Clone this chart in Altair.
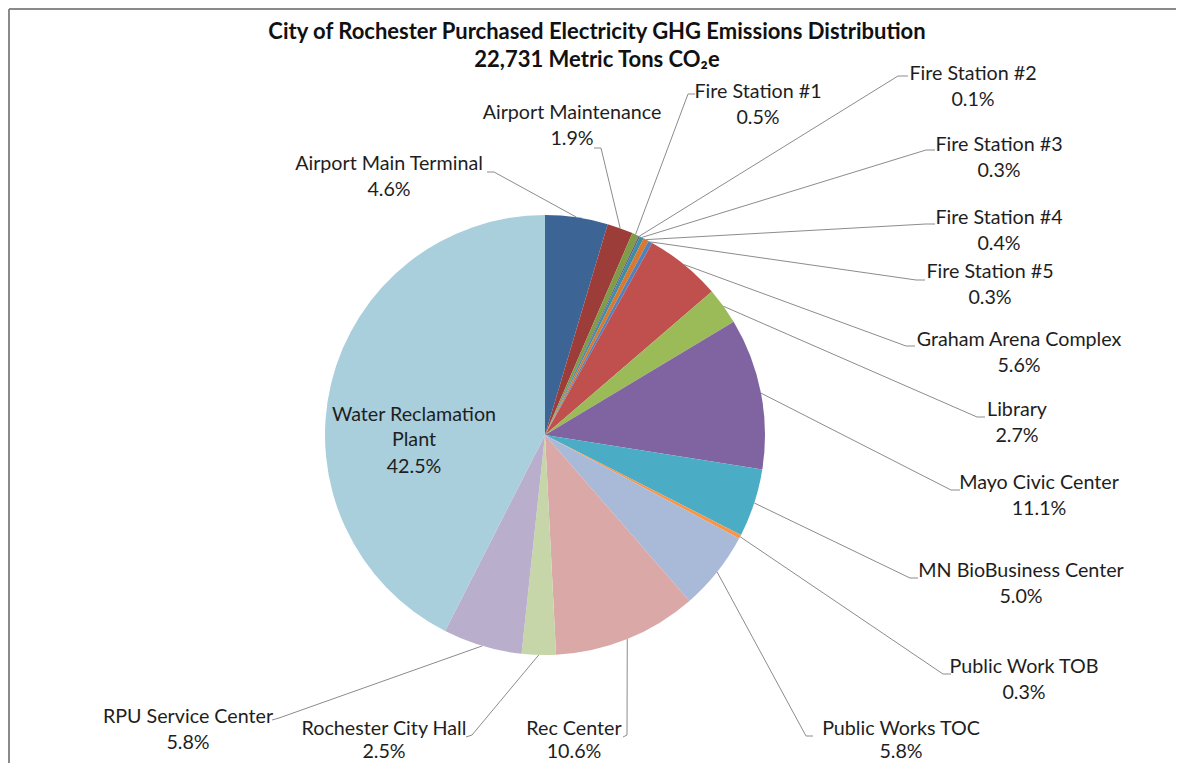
import math
import altair as alt
import pandas as pd

# ---- data ----
names = ["Airport Main Terminal", "Airport Maintenance", "Fire Station #1", "Fire Station #2",
         "Fire Station #3", "Fire Station #4", "Fire Station #5", "Graham Arena Complex",
         "Library", "Mayo Civic Center", "MN BioBusiness Center", "Public Work TOB",
         "Public Works TOC", "Rec Center", "Rochester City Hall", "RPU Service Center",
         "Water Reclamation Plant"]
values = [4.6, 1.9, 0.5, 0.1, 0.3, 0.4, 0.3, 5.6, 2.7, 11.1, 5.0, 0.3, 5.8, 10.6, 2.5, 5.8, 42.5]
colors = ["#3C6595", "#9C3D3A", "#7E9D46", "#664F84", "#3A8FA6", "#D9782F", "#4F81BD",
          "#C0504D", "#9BBB59", "#8064A2", "#4BACC6", "#F79646", "#A9B9D8", "#DBA8A8",
          "#C7D6A9", "#B9AECB", "#A9CEDC"]
title_lines = ["City of Rochester Purchased Electricity GHG Emissions Distribution",
               "22,731 Metric Tons CO\u2082e"]

# ---- layout (page pixel coordinates) ----
W, H = 1168, 755
CX, CY, R = 545, 435, 220
label_cx = [389, 572, 758, 973, 999, 999, 990, 1019, 1017, 1039, 1021, 1024, 901, 574, 384, 188]
label_cy = [164, 113, 92, 74, 145, 218, 272, 340, 410, 483, 571, 667, 729, 729, 729, 717]
label_gap = [26, 26, 26, 26, 26, 26, 26, 26, 26, 26, 26, 26, 23, 23, 23, 26]
anchor_x = [487, 594, 695, 908, 935, 935, 925, 915, 985, 960, 918, 951, 813, 623, 466, 272]
anchor_y = [172, 148, 94, 76, 150, 224, 280, 346, 417, 490, 578, 674, 736, 737, 737, 720]
elbow_x = [494, 601, 688, 898, 926, 926, 916, 906, 977, 951, 910, 943, 806, 627, 472, 279]
elbow_y = [172, 148, 94, 76, 150, 224, 280, 346, 417, 490, 578, 674, 736, 735, 735, 718]
inner_lines_y = [415, 440, 467]
inner_cx = 414
FONT = "Lato"
LABEL_SIZE = 19.7
TITLE_SIZE = 22

total = sum(values)
pie_df = pd.DataFrame({"name": names, "value": values, "idx": list(range(len(names)))})

# leader lines: label anchor -> elbow -> slice rim at mid-angle (from the data)
rows = []
cum = 0.0
mids = []
for v in values:
    mids.append((cum + v / 2) / total * 2 * math.pi)
    cum += v
for i in range(len(label_cx)):
    a = mids[i]
    rx = CX + R * math.sin(a)
    ry = CY - R * math.cos(a)
    for k, (px, py) in enumerate([(anchor_x[i], anchor_y[i]), (elbow_x[i], elbow_y[i]), (rx, ry)]):
        rows.append({"name": names[i], "k": k, "px": px, "py": py})
lead_df = pd.DataFrame(rows)

text_rows = []
for i in range(len(label_cx)):
    text_rows.append({"t": names[i], "px": label_cx[i], "py": label_cy[i]})
    text_rows.append({"t": f"{values[i]:.1f}%", "px": label_cx[i], "py": label_cy[i] + label_gap[i]})
wi = len(names) - 1
for t, py in zip(["Water Reclamation", "Plant", f"{values[wi]:.1f}%"], inner_lines_y):
    text_rows.append({"t": t, "px": inner_cx, "py": py})
text_df = pd.DataFrame(text_rows)

title_df = pd.DataFrame({"t": title_lines, "px": [597, 597], "py": [32, 60]})

xs = alt.Scale(domain=[8, 8 + W], nice=False, zero=False)
ys = alt.Scale(domain=[8, 8 + H], nice=False, zero=False, reverse=True)
X = alt.X("px:Q", scale=xs, axis=None)
Y = alt.Y("py:Q", scale=ys, axis=None)

pie = alt.Chart(pie_df).mark_arc(outerRadius=R).encode(
    theta=alt.Theta("value:Q", stack=True),
    color=alt.Color("name:N", scale=alt.Scale(domain=names, range=colors), legend=None),
    order=alt.Order("idx:Q"),
    x=alt.value(CX - 8),
    y=alt.value(CY - 8),
)

leaders = alt.Chart(lead_df).mark_line(color="#8c8c8c", strokeWidth=1).encode(
    x=X, y=Y, detail="name:N", order="k:Q"
)

labels = alt.Chart(text_df).mark_text(
    font=FONT, fontSize=LABEL_SIZE, color="#1e1e1e", align="center", baseline="middle"
).encode(x=X, y=Y, text="t:N")

title = alt.Chart(title_df).mark_text(
    font=FONT, fontSize=TITLE_SIZE, fontWeight="bold", color="#111111", align="center", baseline="middle"
).encode(x=X, y=Y, text="t:N")

border = alt.Chart(pd.DataFrame({"a": [0]})).mark_rule(color="#8a8a8a", strokeWidth=2).encode(
    x=alt.value(1), x2=alt.value(W), y=alt.value(1)
)
border_l = alt.Chart(pd.DataFrame({"a": [0]})).mark_rule(color="#8a8a8a", strokeWidth=2).encode(
    x=alt.value(1), y=alt.value(1), y2=alt.value(H)
)

chart = alt.layer(pie, leaders, labels, title, border, border_l).properties(
    width=W, height=H, padding=0, autosize=alt.AutoSizeParams(type="none")
).configure_view(stroke=None)

chart.save("out.html", embed_options={"renderer": "svg", "actions": False})
